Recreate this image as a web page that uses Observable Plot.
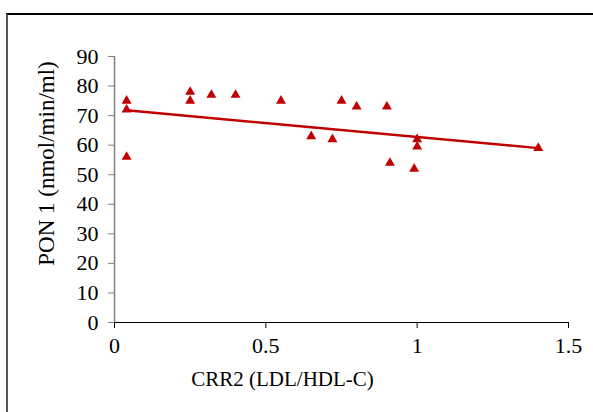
<!DOCTYPE html>
<html>
<head>
<meta charset="utf-8">
<script src="https://cdn.jsdelivr.net/npm/d3@7"></script>
<script src="https://cdn.jsdelivr.net/npm/@observablehq/plot@0.6"></script>
<style>
  html, body { margin: 0; padding: 0; background: #fff; }
  #wrap { position: relative; width: 593px; height: 412px; overflow: hidden; }
  #frame { position: absolute; left: 6px; top: 13px; width: 700px; height: 500px;
           border-top: 2px solid #000; border-left: 2px solid #555; box-sizing: border-box; }
  #chart { position: absolute; left: 0; top: 0; }
  #chart svg, #chart svg text, #chart svg g { font-family: "Liberation Serif", "Times New Roman", serif !important; }
</style>
</head>
<body>
<div id="wrap"><div id="frame"></div><div id="chart"></div></div>
<script>
// Data
const crr2 = [0.04, 0.04, 0.04, 0.25, 0.25, 0.32, 0.40, 0.55, 0.65, 0.72, 0.75, 0.80, 0.90, 0.91, 0.99, 1.00, 1.00, 1.40];
const pon1 = [75, 72, 56, 78, 75, 77, 77, 75, 63, 62, 75, 73, 73, 54, 52, 59.5, 62, 59];
// Trend line endpoints
const trendX = [0.04, 1.40];
const trendY = [71.8, 59.0];
const xTicks = [0, 0.5, 1, 1.5];
const yTicks = [0, 10, 20, 30, 40, 50, 60, 70, 80, 90];
const xTitle = "CRR2 (LDL/HDL-C)";
const yTitle = "PON 1 (nmol/min/ml)";

const points = crr2.map((x, i) => ({x, y: pon1[i]}));
const trend = trendX.map((x, i) => ({x, y: trendY[i]}));
const red = "#C00000";

const chart = Plot.plot({
  width: 593,
  height: 412,
  marginLeft: 114,
  marginRight: 25,
  marginTop: 56,
  marginBottom: 90,
  style: {fontSize: "22px", color: "#000", background: "transparent", overflow: "visible"},
  x: {domain: [0, 1.5]},
  y: {domain: [0, 90]},
  marks: [
    Plot.axisY({ticks: yTicks, tickSize: 6, tickPadding: 10, stroke: "#808080", fill: "#000", label: null, fontSize: 22, tickFormat: d => String(d)}),
    Plot.axisX({ticks: xTicks, tickSize: 6, tickPadding: 9, stroke: "#000", fill: "#000", label: null, fontSize: 22, tickFormat: d => String(d)}),
    Plot.ruleX([0], {stroke: "#808080", strokeWidth: 1.5}),
    Plot.ruleY([0], {stroke: "#000", strokeWidth: 1.2}),
    Plot.line(trend, {x: "x", y: "y", stroke: red, strokeWidth: 2.5}),
    Plot.dot(points, {x: "x", y: "y", symbol: "triangle", r: 3.7, fill: red, stroke: "none"}),
    Plot.text([xTitle], {frameAnchor: "bottom", textAnchor: "middle", lineAnchor: "middle", dx: -59, dy: 57, fontSize: 21, fill: "#000"}),
    Plot.text([yTitle], {frameAnchor: "left", textAnchor: "middle", lineAnchor: "middle", rotate: -90, dx: -68, dy: -26, fontSize: 23, fill: "#000"})
  ]
});
document.getElementById("chart").appendChild(chart);
</script>
</body>
</html>
